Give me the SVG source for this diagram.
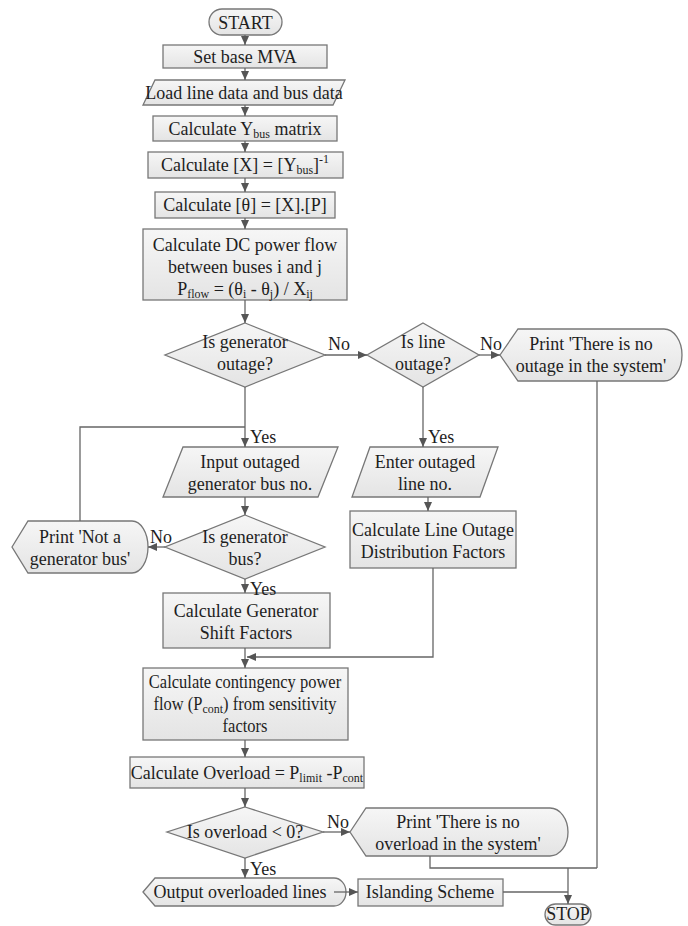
<svg xmlns="http://www.w3.org/2000/svg" width="688" height="926" viewBox="0 0 688 926">
<defs>
<linearGradient id="g" x1="0" y1="0" x2="0" y2="1"><stop offset="0" stop-color="#f6f6f6"/><stop offset="1" stop-color="#e4e4e4"/></linearGradient>
<marker id="ah" markerWidth="10" markerHeight="10" refX="9" refY="5" orient="auto" markerUnits="userSpaceOnUse"><path d="M0,1 L9,5 L0,9 Z" fill="#555"/></marker>
</defs>
<style>
.s{fill:url(#g);stroke:#777;stroke-width:1.3}
.t{font-family:"Liberation Serif","Times New Roman",serif;font-size:18px;fill:#1e1e1e;text-anchor:middle}
.l{font-family:"Liberation Serif","Times New Roman",serif;font-size:18px;fill:#1e1e1e}
.sm{font-size:16.5px}
.sb{font-size:12px}
.c{fill:none;stroke:#666;stroke-width:1.3}
.a{marker-end:url(#ah)}
</style>
<rect width="688" height="926" fill="#fff"/>

<g id="start"><rect class="s" x="209" y="9" width="73" height="26" rx="13"/><text class="t" transform="translate(245.5,29) scale(1,1.1)">START</text></g>
<g id="setbase"><rect class="s" x="163" y="45" width="164" height="23"/><text class="t" transform="translate(245,63) scale(1,1.1)">Set base MVA</text></g>
<g id="load"><polygon class="s" points="155,80 345,80 333,105 143,105"/><text class="t" transform="translate(244,99) scale(1,1.1)">Load line data and bus data</text></g>
<g id="ybus"><rect class="s" x="153" y="116" width="184" height="25"/><text class="t" transform="translate(245,135) scale(1,1.1)">Calculate Y<tspan class="sb" dy="3">bus</tspan><tspan dy="-3"> matrix</tspan></text></g>
<g id="xinv"><rect class="s" x="148" y="152" width="195" height="26"/><text class="t" transform="translate(245,171) scale(1,1.1)">Calculate [X] = [Y<tspan class="sb" dy="3">bus</tspan><tspan dy="-3">]</tspan><tspan class="sb" dy="-7">-1</tspan></text></g>
<g id="theta"><rect class="s" x="155" y="192" width="180" height="26"/><text class="t" transform="translate(245,211) scale(1,1.1)">Calculate [θ] = [X].[P]</text></g>
<g id="dcflow"><rect class="s" x="143" y="229" width="204" height="71"/>
<text class="t" transform="translate(245,251) scale(1,1.1)">Calculate DC power flow</text>
<text class="t" transform="translate(245,273) scale(1,1.1)">between buses i and j</text>
<text class="t" transform="translate(245,295) scale(1,1.1)">P<tspan class="sb" dy="3">flow</tspan><tspan dy="-3"> = (θ</tspan><tspan class="sb" dy="3">i</tspan><tspan dy="-3"> - θ</tspan><tspan class="sb" dy="3">j</tspan><tspan dy="-3">) / X</tspan><tspan class="sb" dy="3">ij</tspan></text></g>
<g id="isgenout"><polygon class="s" points="245,323 325,355 245,387 165,355"/><text class="t" transform="translate(245,348) scale(1,1.1)">Is generator</text><text class="t" transform="translate(245,370) scale(1,1.1)">outage?</text></g>
<g id="islineout"><polygon class="s" points="423,323 479,355 423,387 367,355"/><text class="t" transform="translate(423,348) scale(1,1.1)">Is line</text><text class="t" transform="translate(423,370) scale(1,1.1)">outage?</text></g>
<g id="printnoout"><path class="s" d="M500,355 L518,329 L664,329 A18,26 0 0 1 664,381 L518,381 Z"/><text class="t" transform="translate(591,350) scale(1,1.1)">Print 'There is no</text><text class="t" transform="translate(591,372) scale(1,1.1)">outage in the system'</text></g>
<g id="inputgen"><polygon class="s" points="183,447 338,447 318,497 163,497"/><text class="t" transform="translate(250,468) scale(1,1.1)">Input outaged</text><text class="t" transform="translate(250,490) scale(1,1.1)">generator bus no.</text></g>
<g id="enterline"><polygon class="s" points="370,447 498,447 480,497 352,497"/><text class="t" transform="translate(425,468) scale(1,1.1)">Enter outaged</text><text class="t" transform="translate(425,490) scale(1,1.1)">line no.</text></g>
<g id="isgenbus"><polygon class="s" points="245,515 325,547 245,579 165,547"/><text class="t" transform="translate(245,543) scale(1,1.1)">Is generator</text><text class="t" transform="translate(245,565) scale(1,1.1)">bus?</text></g>
<g id="printnotgen"><path class="s" d="M12,547 L28,521 L132,521 A16,26 0 0 1 132,573 L28,573 Z"/><text class="t" transform="translate(80,543) scale(1,1.1)">Print 'Not a</text><text class="t" transform="translate(80,565) scale(1,1.1)">generator bus'</text></g>
<g id="lodf"><rect class="s" x="350" y="511" width="166" height="57"/><text class="t" transform="translate(433,536) scale(1,1.1)">Calculate Line Outage</text><text class="t" transform="translate(433,558) scale(1,1.1)">Distribution Factors</text></g>
<g id="gsf"><rect class="s" x="163" y="593" width="167" height="55"/><text class="t" transform="translate(246,617) scale(1,1.1)">Calculate Generator</text><text class="t" transform="translate(246,639) scale(1,1.1)">Shift Factors</text></g>
<g id="contflow"><rect class="s" x="143" y="668" width="205" height="72"/>
<text class="t sm" transform="translate(245,688) scale(1,1.1)">Calculate contingency power</text>
<text class="t sm" transform="translate(245,710) scale(1,1.1)">flow (P<tspan class="sb" dy="3">cont</tspan><tspan dy="-3">) from sensitivity</tspan></text>
<text class="t sm" transform="translate(245,732) scale(1,1.1)">factors</text></g>
<g id="overload"><rect class="s" x="130" y="757" width="234" height="31"/><text class="t" transform="translate(247,779) scale(1,1.1)">Calculate Overload = P<tspan class="sb" dy="3">limit</tspan><tspan dy="-3"> -P</tspan><tspan class="sb" dy="3">cont</tspan></text></g>
<g id="isoverload"><polygon class="s" points="245,807 323,832 245,858 167,832"/><text class="t" transform="translate(245,838) scale(1,1.1)">Is overload &lt; 0?</text></g>
<g id="printnoover"><path class="s" d="M350,832 L366,808 L550,808 A18,24 0 0 1 550,856 L366,856 Z"/><text class="t" transform="translate(458,828) scale(1,1.1)">Print 'There is no</text><text class="t" transform="translate(458,850) scale(1,1.1)">overload in the system'</text></g>
<g id="output"><path class="s" d="M143,892 L155,878 L334,878 A12,14 0 0 1 334,906 L155,906 Z"/><text class="t" transform="translate(240,898) scale(1,1.1)">Output overloaded lines</text></g>
<g id="islanding"><rect class="s" x="358" y="879" width="145" height="27"/><text class="t" transform="translate(430,898) scale(1,1.1)">Islanding Scheme</text></g>
<g id="stop"><rect class="s" x="545" y="904" width="46" height="21" rx="10.5"/><text class="t" transform="translate(568,920) scale(1,1.1)">STOP</text></g>

<g id="connectors">
<line class="c a" x1="245" y1="35" x2="245" y2="45"/>
<line class="c a" x1="245" y1="68" x2="245" y2="80"/>
<line class="c a" x1="245" y1="105" x2="245" y2="116"/>
<line class="c a" x1="245" y1="141" x2="245" y2="152"/>
<line class="c a" x1="245" y1="178" x2="245" y2="192"/>
<line class="c a" x1="245" y1="218" x2="245" y2="229"/>
<line class="c a" x1="245" y1="300" x2="245" y2="323"/>
<line class="c a" x1="325" y1="355" x2="367" y2="355"/>
<line class="c a" x1="479" y1="355" x2="500" y2="355"/>
<line class="c a" x1="245" y1="387" x2="245" y2="447"/>
<line class="c a" x1="423" y1="387" x2="423" y2="447"/>
<polyline class="c" points="80,521 80,427 245,427"/>
<line class="c a" x1="245" y1="497" x2="245" y2="515"/>
<line class="c a" x1="165" y1="547" x2="148" y2="547"/>
<line class="c a" x1="428" y1="497" x2="428" y2="511"/>
<line class="c a" x1="245" y1="579" x2="245" y2="593"/>
<polyline class="c a" points="433,568 433,657 247,657"/>
<line class="c a" x1="245" y1="648" x2="245" y2="668"/>
<line class="c a" x1="245" y1="740" x2="245" y2="757"/>
<line class="c a" x1="245" y1="788" x2="245" y2="807"/>
<line class="c a" x1="323" y1="832" x2="350" y2="832"/>
<line class="c a" x1="245" y1="858" x2="245" y2="878"/>
<line class="c a" x1="334" y1="892" x2="358" y2="892"/>
<polyline class="c" points="503,892 568,892"/>
<polyline class="c" points="597,381 597,868"/>
<polyline class="c" points="430,856 430,868 597,868"/>
<line class="c a" x1="568" y1="868" x2="568" y2="904"/>
<text class="l" transform="translate(328,350) scale(1,1.1)">No</text>
<text class="l" transform="translate(480,350) scale(1,1.1)">No</text>
<text class="l" transform="translate(250,443) scale(1,1.1)">Yes</text>
<text class="l" transform="translate(428,443) scale(1,1.1)">Yes</text>
<text class="l" transform="translate(150,543) scale(1,1.1)">No</text>
<text class="l" transform="translate(250,595) scale(1,1.1)">Yes</text>
<text class="l" transform="translate(327,828) scale(1,1.1)">No</text>
<text class="l" transform="translate(250,875) scale(1,1.1)">Yes</text>
</g>
</svg>
